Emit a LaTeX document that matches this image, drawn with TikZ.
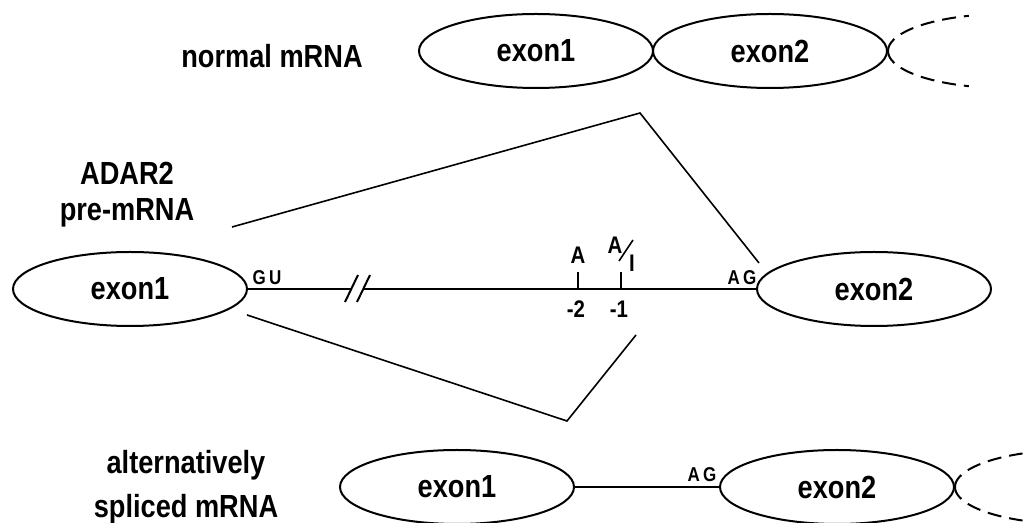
\documentclass[tikz,border=0pt]{standalone}
\usepackage{fontspec}
\setmainfont{Liberation Sans}[FakeStretch=0.85]
\usetikzlibrary{shapes.geometric, positioning, calc}

\tikzset{
  exon/.style={
    ellipse, draw, line width=1pt,
    minimum width=117pt, minimum height=37pt, inner sep=0pt,
    font=\fontsize{16}{18}\selectfont\bfseries,
  },
  rowlabel/.style={font=\fontsize{16}{18}\selectfont\bfseries, align=center},
  site/.style={font=\fontsize{10}{11}\selectfont\bfseries, inner sep=0pt},
  base/.style={font=\fontsize{12}{13}\selectfont\bfseries, inner sep=0pt},
  posnum/.style={font=\fontsize{12}{14}\selectfont\bfseries, inner sep=0pt},
  strand/.style={line width=1pt},
  splice/.style={line width=0.8pt},
  tail/.style={line width=1pt, dash pattern=on 7pt off 4pt},
}

\begin{document}
\begin{tikzpicture}[x=0.5pt, y=-0.5pt]
  \useasboundingbox (0,0) rectangle (1024,523);

  % normal mRNA
  \node[rowlabel] (lnormal) at (272,56) {normal mRNA};
  \node[exon] (ex1top) at (536,51) {exon1};
  \node[exon] (ex2top) at (770,51) {exon2};
  \draw[tail] (ex2top.east) arc[start angle=180, end angle=108, x radius=58.5pt, y radius=18.5pt];
  \draw[tail] (ex2top.east) arc[start angle=180, end angle=252, x radius=58.5pt, y radius=18.5pt];

  % pre-mRNA
  \node[rowlabel] (lpre) at (127,195) {ADAR2\\pre-mRNA};
  \node[exon] (ex1pre) at (130,289) {exon1};
  \node[exon] (ex2pre) at (874,289) {exon2};
  \node[site] (gu) at (267,278) {G\,U};
  \node[site] (agpre) at (742,278) {A\,G};

  \coordinate (brkL) at (352,289);
  \coordinate (brkR) at (364,289);
  \draw[strand] (ex1pre.east) -- (brkL);
  \draw[strand] (brkR) -- (ex2pre.west);
  \draw[strand] ($(brkL)+(-7,13)$) -- ($(brkL)+(6,-14)$);
  \draw[strand] ($(brkR)+(-7,13)$) -- ($(brkR)+(6,-14)$);

  \coordinate (m2) at (578,289);
  \coordinate (m1) at (621,289);
  \draw[strand] (m2) -- ++(0,-17);
  \draw[strand] (m1) -- ++(0,-17);
  \node[base] (bA) at (578,255) {A};
  \node[base] (bA2) at (615,245) {A};
  \node[base] (bI) at (632,263) {I};
  \draw[line width=0.8pt] (619,261) -- (633,240);
  \node[posnum] (p2) at (576,309) {-2};
  \node[posnum] (p1) at (619,309) {-1};

  % splice lines
  \coordinate (upS) at (232,227);
  \coordinate (upP) at (640,113);
  \coordinate (upE) at (759,263);
  \draw[splice] (upS) -- (upP) -- (upE);
  \coordinate (loS) at (247,315);
  \coordinate (loP) at (567,421);
  \coordinate (loE) at (636,335);
  \draw[splice] (loS) -- (loP) -- (loE);

  % alternatively spliced mRNA
  \node[rowlabel, font=\fontsize{16}{22}\selectfont\bfseries] (lalt) at (186,487) {alternatively\\spliced mRNA};
  \node[exon] (ex1alt) at (457,487) {exon1};
  \node[exon] (ex2alt) at (837,487) {exon2};
  \node[site] (agalt) at (702,475) {A\,G};
  \draw[strand] (ex1alt.east) -- (ex2alt.west);
  \draw[tail] (ex2alt.east) arc[start angle=180, end angle=115, x radius=58.5pt, y radius=18.5pt];
  \draw[tail] (ex2alt.east) arc[start angle=180, end angle=245, x radius=58.5pt, y radius=18.5pt];
\end{tikzpicture}
\end{document}
